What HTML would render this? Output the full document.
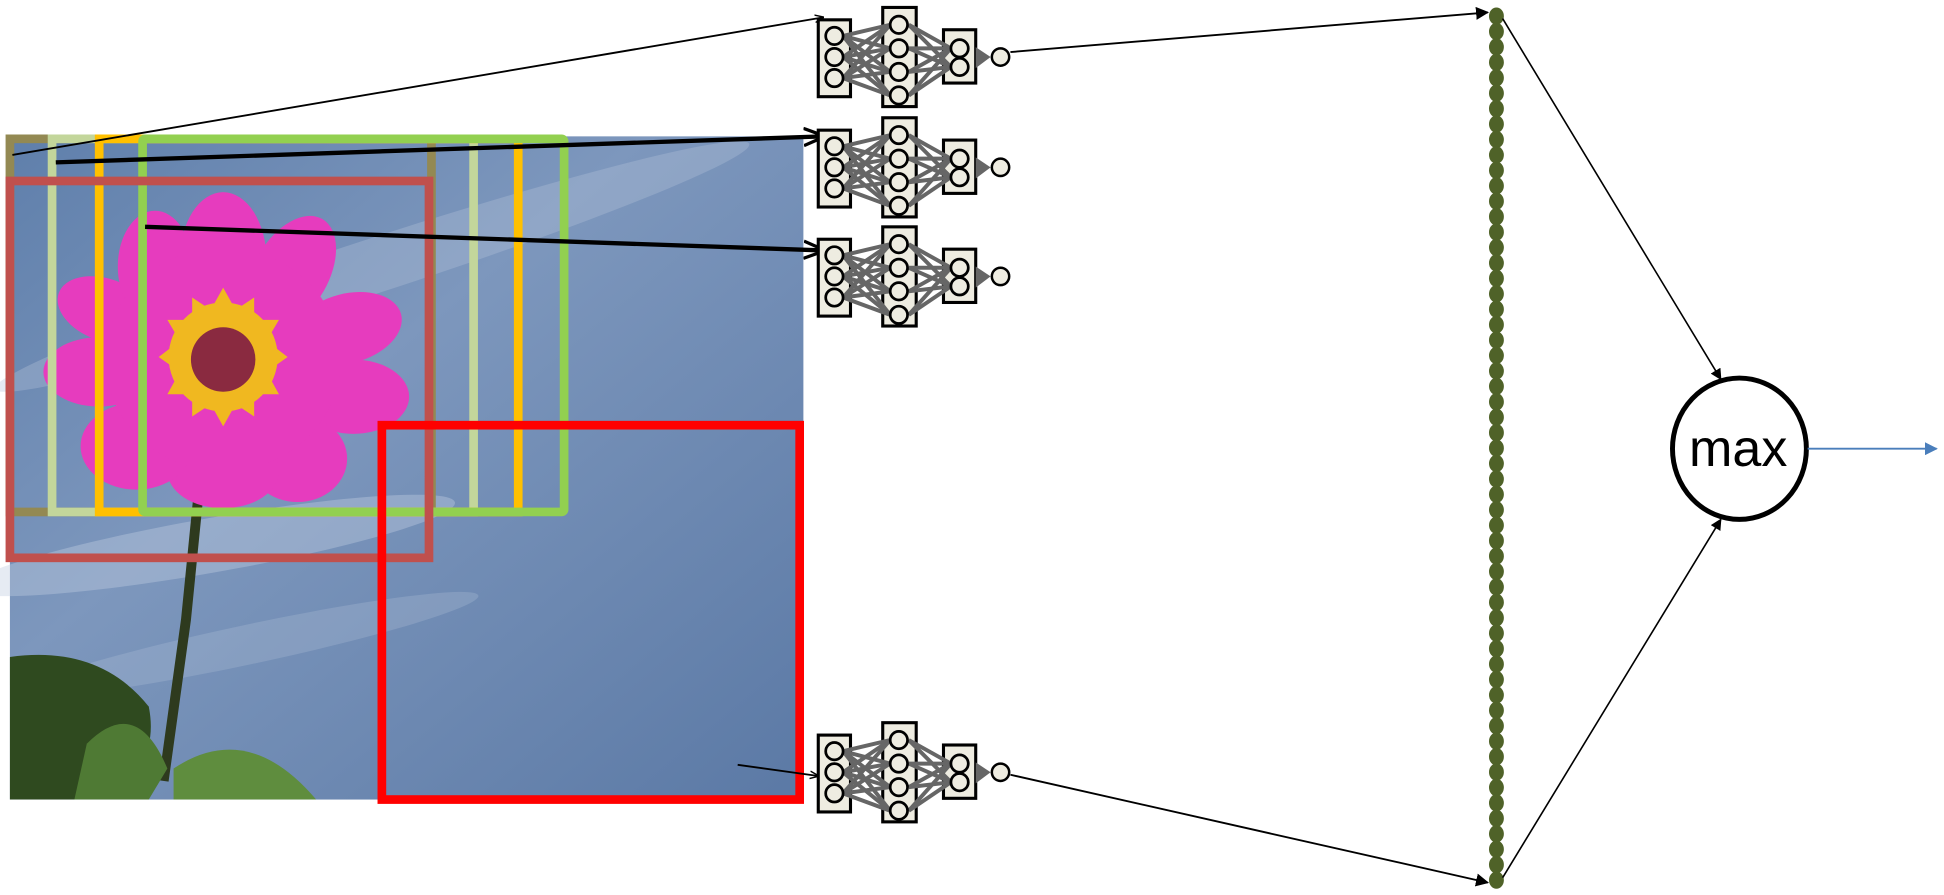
<!DOCTYPE html>
<html><head><meta charset="utf-8"><style>
html,body{margin:0;padding:0;background:#fff;width:1944px;height:895px;overflow:hidden}
svg{display:block}
</style></head><body>
<svg id="s" width="1944" height="895" viewBox="0 0 1568 722" preserveAspectRatio="none" xmlns="http://www.w3.org/2000/svg">
<defs>
<marker id="ah" viewBox="0 0 10 10" refX="9" refY="5" markerWidth="7" markerHeight="7" orient="auto-start-reverse"><path d="M0,0 L10,5 L0,10 z" fill="#000"/></marker>
<marker id="ahb" viewBox="0 0 10 10" refX="9" refY="5" markerWidth="7" markerHeight="7" orient="auto"><path d="M0,0 L10,5 L0,10 z" fill="#4a7ebb"/></marker>
<marker id="ao" viewBox="0 0 10 10" refX="9" refY="5" markerWidth="5" markerHeight="5" orient="auto"><path d="M0,1 L10,5 L0,9" fill="none" stroke="#000" stroke-width="1.5"/></marker>
<linearGradient id="sky" x1="0" y1="0" x2="1" y2="1"><stop offset="0" stop-color="#5f7fab"/><stop offset="0.4" stop-color="#7d97bd"/><stop offset="1" stop-color="#5b79a5"/></linearGradient>
</defs>
<g>
<rect x="8" y="110" width="640" height="535" fill="url(#sky)"/>
<ellipse cx="300" cy="215" rx="320" ry="22" fill="#b4c4da" opacity="0.35" transform="rotate(-18 300 215)"/>
<ellipse cx="170" cy="440" rx="200" ry="22" fill="#c0cee0" opacity="0.4" transform="rotate(-10 170 440)"/>
<ellipse cx="200" cy="520" rx="190" ry="16" fill="#b0c1d8" opacity="0.3" transform="rotate(-12 200 520)"/>
<path d="M160,400 L150,500 L132,630" stroke="#2e3a1e" stroke-width="8" fill="none"/>
<path d="M8,530 Q80,520 120,570 Q130,620 80,645 L8,645 Z" fill="#2f4a1f"/>
<path d="M70,600 Q110,560 135,620 L120,645 L60,645 Z" fill="#4f7a34"/>
<path d="M140,620 Q200,580 255,645 L140,645 Z" fill="#5f8d3e"/>
<g fill="#e63cbe">
<ellipse cx="180" cy="210" rx="35" ry="55"/><ellipse cx="235" cy="220" rx="30" ry="50" transform="rotate(30 235 220)"/>
<ellipse cx="280" cy="265" rx="45" ry="28" transform="rotate(-15 280 265)"/><ellipse cx="285" cy="320" rx="45" ry="30"/>
<ellipse cx="240" cy="370" rx="40" ry="35"/><ellipse cx="180" cy="380" rx="45" ry="30"/>
<ellipse cx="110" cy="360" rx="45" ry="35"/><ellipse cx="80" cy="300" rx="45" ry="28"/>
<ellipse cx="85" cy="250" rx="40" ry="25" transform="rotate(20 85 250)"/><ellipse cx="125" cy="215" rx="30" ry="45"/>
<ellipse cx="180" cy="290" rx="95" ry="90"/>
</g>
<g fill="#f0b820">
<circle cx="180" cy="288" r="44"/>
<path d="M180,232 L190,250 L205,240 L205,258 L225,258 L215,275 L232,288 L215,300 L225,318 L205,318 L205,336 L190,326 L180,344 L170,326 L155,336 L155,318 L135,318 L145,300 L128,288 L145,275 L135,258 L155,258 L155,240 L170,250 Z"/>
</g>
<circle cx="180" cy="290" r="26" fill="#8a2a40"/>
</g>
<g fill="none" stroke-width="7">
<rect x="8" y="112" width="340" height="301" stroke="#938953"/>
<rect x="42" y="112" width="340" height="301" stroke="#c3d69b"/>
<rect x="80" y="112" width="338" height="301" stroke="#ffc000"/>
<rect x="115" y="112" width="340" height="301" stroke="#92d050" rx="2"/>
<rect x="8" y="146" width="338" height="304" stroke="#c0504d"/>
<rect x="308" y="343" width="337" height="302" stroke="#ff0000"/>
</g>
<line x1="10" y1="125" x2="664" y2="14" stroke="#000" stroke-width="1.5" marker-end="url(#ao)"/>
<line x1="45" y1="131" x2="664" y2="110" stroke="#000" stroke-width="3.5" marker-end="url(#ao)"/>
<line x1="117" y1="183" x2="664" y2="202" stroke="#000" stroke-width="3.5" marker-end="url(#ao)"/>
<line x1="595" y1="617" x2="660" y2="626" stroke="#000" stroke-width="1.5" marker-end="url(#ao)"/>
<g id="nets"></g>
<line x1="815" y1="42" x2="1200" y2="10" stroke="#000" stroke-width="1.5" marker-end="url(#ah)"/>
<line x1="815" y1="625" x2="1200" y2="712" stroke="#000" stroke-width="1.5" marker-end="url(#ah)"/>
<g id="dots"></g>
<line x1="1212" y1="15" x2="1388" y2="306" stroke="#000" stroke-width="1.3" marker-end="url(#ah)"/>
<line x1="1212" y1="708" x2="1388" y2="419" stroke="#000" stroke-width="1.3" marker-end="url(#ah)"/>
<ellipse cx="1403" cy="362" rx="54" ry="57" fill="#fff" stroke="#000" stroke-width="4"/>
<text x="1402" y="376" text-anchor="middle" font-family="Liberation Sans, sans-serif" font-size="42">max</text>
<line x1="1458" y1="362" x2="1562" y2="362" stroke="#4a7ebb" stroke-width="1.5" marker-end="url(#ahb)"/>
</svg>
<script>
const NS='http://www.w3.org/2000/svg';
const netTops=[6,95,183,583];
const dotCount=57;
function mk(tag,attrs,parent){const e=document.createElementNS(NS,tag);for(const k in attrs)e.setAttribute(k,attrs[k]);parent.appendChild(e);return e;}
const nets=document.getElementById('nets');
netTops.forEach((t,i)=>{
  const g=mk('g',{},nets);
  
  
  const inY=[t+23,t+40,t+57], hY=[t+14,t+33,t+52,t+71], oY=[t+33,t+48];
  mk('rect',{x:660,y:t+10,width:26,height:62,fill:'#eeece1',stroke:'#000','stroke-width':2.5},g);
  mk('rect',{x:712,y:t,width:27,height:80,fill:'#eeece1',stroke:'#000','stroke-width':2.5},g);
  mk('rect',{x:761,y:t+18,width:26,height:43,fill:'#eeece1',stroke:'#000','stroke-width':2.5},g);
  inY.forEach(a=>hY.forEach(b=>mk('line',{x1:680,y1:a,x2:718,y2:b,stroke:'#666','stroke-width':3.2},g)));
  hY.forEach(a=>oY.forEach(b=>mk('line',{x1:733,y1:a,x2:767,y2:b,stroke:'#666','stroke-width':3.2},g)));
  mk('path',{d:`M787,${t+32} L799,${t+40} L787,${t+49} Z`,fill:'#666'},g);
  inY.forEach(y=>mk('circle',{cx:673,cy:y,r:7,fill:'#eeece1',stroke:'#000','stroke-width':2.2},g));
  hY.forEach(y=>mk('circle',{cx:725,cy:y,r:7,fill:'#eeece1',stroke:'#000','stroke-width':2.2},g));
  oY.forEach(y=>mk('circle',{cx:774,cy:y,r:7,fill:'#eeece1',stroke:'#000','stroke-width':2.2},g));
  mk('circle',{cx:807,cy:t+40,r:7,fill:'#eeece1',stroke:'#000','stroke-width':2},g);
});
const dots=document.getElementById('dots');
for(let i=0;i<dotCount;i++){
  const c=mk('ellipse',{cx:1207,cy:13+i*(697/(dotCount-1)),rx:6,ry:7,fill:'#4f6228'},dots);
  
  
}
</script>
</body></html>
